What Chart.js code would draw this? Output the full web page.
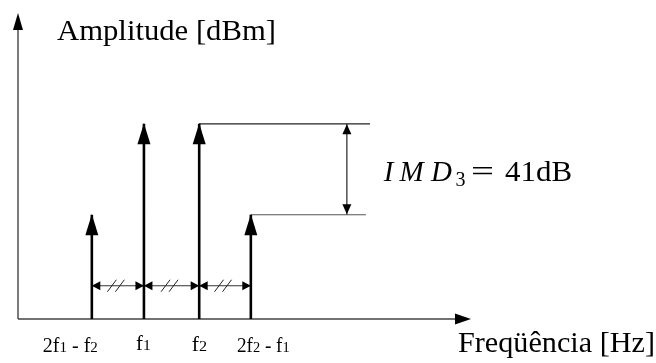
<!DOCTYPE html>
<html><head><meta charset="utf-8">
<script src="https://cdn.jsdelivr.net/npm/chart.js@4.4.0/dist/chart.umd.min.js"></script>
<style>html,body{margin:0;padding:0;background:#fff;overflow:hidden}#wrap{width:656px;height:363px}</style>
</head><body><div id="wrap"><canvas id="c" width="656" height="363"></canvas></div>
<script>
// ---- data ----
const categories   = ['2f1 - f2', 'f1', 'f2', '2f2 - f1'];
const frequencies  = [16.3, 27.8, 40.0, 51.4];   // schematic frequency units
const amplitudes   = [-41, 0, 0, -41];           // dBm (tones 0, IM3 products -41)
const imd3         = 41;                         // dB
const baseLevel    = -88;                        // axis floor
const topLevel     = 50;
const spacingLevel = -73;                        // height of the Δf markers
const imdMarkerX   = 72.6;
const refLineEnds  = [77.7, 76.8];               // [tone line end, IM line end]
const xRange       = [0, 100];

const axisTitleY = 'Amplitude [dBm]';
const axisTitleX = 'Freqüência [Hz]';

// ---- datasets built from the arrays ----
const stemData = [];
frequencies.forEach((f, i) => {
  stemData.push({x: f, y: baseLevel}, {x: f, y: amplitudes[i]}, {x: f, y: null});
});
const toneIdx = 2, imIdx = 3;
const ds = [
  {label:'stems', data: stemData, borderColor:'#000', borderWidth:2.6, spanGaps:false},
  {label:'toneRef', data:[{x:frequencies[toneIdx], y:amplitudes[toneIdx]}, {x:refLineEnds[0], y:amplitudes[toneIdx]}], borderColor:'#222', borderWidth:1.1},
  {label:'imRef', data:[{x:frequencies[imIdx], y:amplitudes[imIdx]}, {x:refLineEnds[1], y:amplitudes[imIdx]}], borderColor:'#555', borderWidth:1.1},
  {label:'imd', data:[{x:imdMarkerX, y:amplitudes[toneIdx]}, {x:imdMarkerX, y:amplitudes[toneIdx]-imd3}], borderColor:'#111', borderWidth:1.1},
  {label:'spacing', data:[{x:frequencies[0], y:spacingLevel}, {x:frequencies[3], y:spacingLevel}], borderColor:'#333', borderWidth:1.2}
].map(d => Object.assign({showLine:true, pointRadius:0, borderCapStyle:'butt', fill:false, clip:false}, d));

function arrowHead(ctx, tx, ty, dx, dy, len, hw, color) {
  const px = -dy, py = dx;
  ctx.beginPath();
  ctx.moveTo(tx, ty);
  ctx.lineTo(tx - dx*len + px*hw, ty - dy*len + py*hw);
  ctx.lineTo(tx - dx*len - px*hw, ty - dy*len - py*hw);
  ctx.closePath();
  ctx.fillStyle = color;
  ctx.fill();
}
function drawRuns(ctx, runs, x, baseline, width) {
  let total = 0;
  runs.forEach(r => { ctx.font = r.f; r.w = ctx.measureText(r.t).width; total += r.w; });
  const sx = width ? width/total : 1;
  ctx.save();
  ctx.translate(x, baseline);
  ctx.scale(sx, 1);
  ctx.fillStyle = '#000';
  ctx.textBaseline = 'alphabetic';
  ctx.textAlign = 'left';
  let cx = 0;
  runs.forEach(r => { ctx.font = r.f; ctx.fillText(r.t, cx, r.dy || 0); cx += r.w; });
  ctx.restore();
}
// pieces centred in their own [x0, x1] box (shrunk only if too wide, mildly stretched otherwise)
function drawPlaced(ctx, pieces, baseline) {
  ctx.save();
  ctx.fillStyle = '#000';
  ctx.textBaseline = 'alphabetic';
  ctx.textAlign = 'left';
  pieces.forEach(p => {
    ctx.font = p.f;
    const w = ctx.measureText(p.t).width;
    const box = p.x1 - p.x0;
    const s = p.stretch ? box / w : Math.min(1, box / w);
    ctx.save();
    ctx.translate(p.x0 + (box - w * s) / 2, baseline + (p.dy || 0));
    ctx.scale(s, 1);
    ctx.fillText(p.t, 0, 0);
    ctx.restore();
  });
  ctx.restore();
}
function labelRuns(txt, main, sub) {
  const runs = [];
  for (let i = 0; i < txt.length; i++) {
    const ch = txt[i];
    const isSub = /[0-9]/.test(ch) && i > 0 && txt[i-1] === 'f';
    runs.push({t: ch, f: (isSub ? sub : main) + 'px "Liberation Serif", serif'});
  }
  return runs;
}

const diagram = {
  id: 'diagram',
  beforeDatasetsDraw(chart) {
    const {ctx, chartArea: a} = chart;
    ctx.save();
    ctx.strokeStyle = '#444';
    ctx.lineWidth = 1.4;
    ctx.beginPath();
    ctx.moveTo(a.left, a.bottom); ctx.lineTo(a.left, a.top + 12);
    ctx.moveTo(a.left, a.bottom); ctx.lineTo(a.right - 12, a.bottom);
    ctx.stroke();
    arrowHead(ctx, a.left, a.top, 0, -1, 17, 5, '#000');
    arrowHead(ctx, a.right, a.bottom, 1, 0, 16, 5.5, '#000');
    ctx.restore();
  },
  afterDatasetsDraw(chart) {
    const {ctx} = chart;
    const xs = chart.scales.x, ys = chart.scales.y;
    ctx.save();
    // stem arrowheads
    frequencies.forEach((f, i) => {
      arrowHead(ctx, xs.getPixelForValue(f), ys.getPixelForValue(amplitudes[i]) - 0.5, 0, -1, 21, 6.5, '#000');
    });
    // spacing double arrows with hatch marks
    const sy = ys.getPixelForValue(spacingLevel);
    for (let i = 0; i < frequencies.length - 1; i++) {
      const x0 = xs.getPixelForValue(frequencies[i]), x1 = xs.getPixelForValue(frequencies[i+1]);
      arrowHead(ctx, x0, sy, -1, 0, 8.5, 4.5, '#000');
      arrowHead(ctx, x1, sy, 1, 0, 8.5, 4.5, '#000');
      const mx = (x0 + x1) / 2 - 2;
      ctx.strokeStyle = '#222'; ctx.lineWidth = 1;
      ctx.beginPath();
      [-4, 4].forEach(o => { ctx.moveTo(mx + o - 4.5, sy + 6); ctx.lineTo(mx + o + 4.5, sy - 6); });
      ctx.stroke();
    }
    // IMD double arrow heads
    const ix = xs.getPixelForValue(imdMarkerX);
    arrowHead(ctx, ix, ys.getPixelForValue(amplitudes[toneIdx]) + 0.5, 0, -1, 10, 4.5, '#000');
    arrowHead(ctx, ix, ys.getPixelForValue(amplitudes[toneIdx] - imd3) - 0.5, 0, 1, 10, 4.5, '#000');
    // texts
    const cfg = chart.options.plugins.diagram;
    drawRuns(ctx, [{t: axisTitleY, f: '29px "Liberation Serif", serif'}], 57, 40, 219);
    drawRuns(ctx, [{t: axisTitleX, f: '29px "Liberation Serif", serif'}], 458, 352, 197);
    const F = '"Liberation Serif", serif';
    const imdStr = String(imd3);
    drawPlaced(ctx, [
      {t: 'I', f: 'italic 29px ' + F, x0: 382, x1: 395},
      {t: 'M', f: 'italic 29px ' + F, x0: 396, x1: 427},
      {t: 'D', f: 'italic 29px ' + F, x0: 428, x1: 455},
      {t: '3', f: '20px ' + F, x0: 455, x1: 466, dy: 5},
      {t: '=', f: '29px ' + F, x0: 471, x1: 494, stretch: true},
      {t: imdStr + 'dB', f: '29px ' + F, x0: 505, x1: 572, stretch: true}
    ], 181);
    categories.forEach((c, i) => {
      const cx = xs.getPixelForValue(frequencies[i]) + cfg.labelShift[i];
      const w = cfg.labelWidth[i];
      drawRuns(ctx, labelRuns(c, 20, 15), cx - w/2, cfg.labelBaseline[i], w);
    });
    ctx.restore();
  }
};

new Chart(document.getElementById('c'), {
  type: 'scatter',
  data: {datasets: ds},
  options: {
    responsive: false,
    animation: false,
    layout: {padding: {left: 18, right: 185, top: 13, bottom: 44}},
    scales: {
      x: {type: 'linear', min: xRange[0], max: xRange[1], display: false},
      y: {type: 'linear', min: baseLevel, max: topLevel, display: false}
    },
    plugins: {
      legend: {display: false},
      tooltip: {enabled: false},
      diagram: {labelShift: [-21.5, -0.5, 0.3, 12.5], labelWidth: [55, 14.7, 15.3, 52.7], labelBaseline: [352, 350, 350.5, 352]}
    }
  },
  plugins: [diagram]
});
</script>
</body></html>
